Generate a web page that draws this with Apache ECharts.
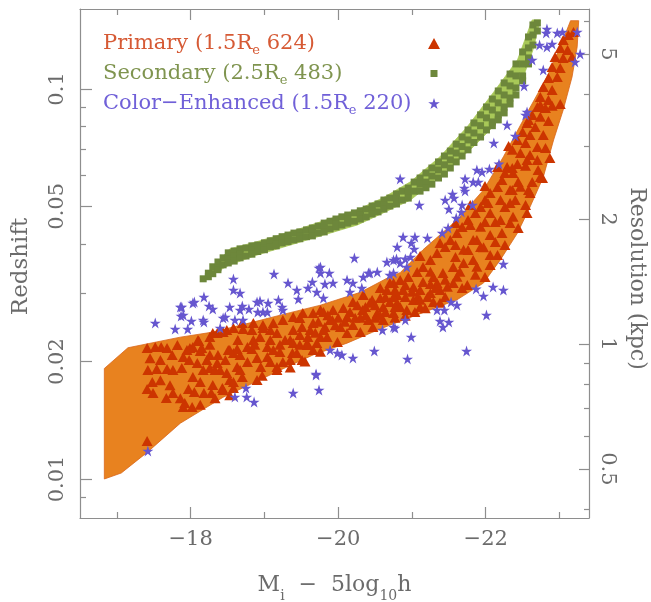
<!DOCTYPE html>
<html>
<head>
<meta charset="utf-8">
<script src="https://cdn.jsdelivr.net/npm/echarts@6.0.0/dist/echarts.min.js"></script>
<style>
  html, body { margin: 0; padding: 0; background: #fff; }
  #chart { width: 651px; height: 602px; }
</style>
</head>
<body>
<div id="chart"></div>
<script>
// axis ranges and ticks
const xMin = -23.4, xMax = -16.5;
const zMin = 0.007943, zMax = 0.1603;
const kpcMin = 0.3808, kpcMax = 6.415;
const xMajorTicks = [-18, -20, -22];
const xMinorTicks = [-17, -19, -21, -23];
const zMajorTicks = [0.01, 0.02, 0.05, 0.1];
const zMinorTicks = [0.009, 0.03, 0.04, 0.06, 0.07, 0.08, 0.09];
const kpcMajorTicks = [0.5, 1, 2, 5];
const kpcMinorTicks = [0.4, 0.6, 0.7, 0.8, 0.9, 3, 4, 6];

// legend
const seriesNames = ['Primary', 'Secondary', 'Color-Enhanced'];
const legendNames = ['Primary', 'Secondary', 'Color\u2212Enhanced'];
const apertures = ['1.5', '2.5', '1.5'];
const sampleCounts = [624, 483, 220];

// band outlines [M_i - 5log h, redshift]
const primaryEdge = [
  [-16.83,0.0192],[-17.15,0.0217],[-17.86,0.0231],[-18.30,0.0238],[-18.90,0.0254],[-19.35,0.0267],
  [-19.76,0.0279],[-20.30,0.0301],[-20.70,0.0330],[-20.84,0.0338],[-21.15,0.0387],[-21.61,0.0461],
  [-21.97,0.0551],[-22.24,0.0670],[-22.56,0.0868],[-22.83,0.1073],[-23.01,0.1282],[-23.15,0.1496],
  [-23.26,0.1496],[-23.24,0.1282],[-23.17,0.1073],[-23.05,0.0883],[-22.92,0.0740],[-22.78,0.0594],
  [-22.60,0.0498],[-22.43,0.0427],[-22.20,0.0365],[-21.97,0.0318],[-21.61,0.0288],[-21.15,0.0267],
  [-20.70,0.0248],[-20.47,0.0238],[-20.12,0.0223],[-19.66,0.0208],[-19.21,0.0190],[-18.44,0.0162],
  [-17.86,0.0139],[-17.41,0.0117],[-17.06,0.01036],[-16.83,0.0100]
];
const secondaryEdge = [
  [-18.15,0.0324],[-18.53,0.0389],[-18.90,0.0406],[-19.35,0.0430],[-19.80,0.0459],[-20.26,0.0490],
  [-20.61,0.0526],[-20.98,0.0578],[-21.38,0.0670],[-21.75,0.0800],[-22.10,0.0977],[-22.43,0.1186],
  [-22.63,0.1503],[-22.74,0.1503],[-22.64,0.1259],[-22.51,0.1073],[-22.33,0.0920],[-22.10,0.0800],
  [-21.83,0.0710],[-21.38,0.0598],[-21.15,0.0551],[-20.98,0.0519],[-20.61,0.0481],[-20.26,0.0448],
  [-19.80,0.0422],[-19.35,0.0398],[-18.90,0.0375],[-18.53,0.0354],[-18.15,0.0324]
];

// galaxies [M_i - 5log h, redshift]
const primaryPts = [
  [-17.41,0.02167],[-17.52,0.02180],[-17.60,0.02180],[-17.68,0.02167],[-17.82,0.02206],
  [-17.42,0.01903],[-17.54,0.01914],[-17.68,0.01914],[-17.76,0.01903],[-17.88,0.01926],
  [-17.41,0.01701],[-17.49,0.01661],[-17.48,0.01773],[-17.67,0.01613],[-17.76,0.01661],
  [-17.97,0.01701],[-18.05,0.01671],[-18.18,0.01661],[-18.28,0.01661],[-17.90,0.01530],
  [-18.02,0.01530],[-17.41,0.01252],[-17.95,0.02142],[-18.03,0.02180],[-18.11,0.02259],
  [-18.13,0.02129],[-17.98,0.02019],[-18.09,0.01984],[-18.22,0.02019],[-18.26,0.01926],
  [-18.36,0.01984],[-18.37,0.02080],[-18.40,0.01903],[-18.51,0.02142],[-18.58,0.02104],
  [-18.63,0.02155],[-18.70,0.01826],[-18.53,0.01794],[-18.43,0.01711],[-18.58,0.01711],
  [-18.67,0.01903],[-18.77,0.01995],[-18.85,0.02272],[-18.83,0.02155],[-18.90,0.02043],
  [-18.95,0.01937],[-19.04,0.02056],[-19.12,0.02142],[-19.21,0.02117],[-19.17,0.01903],
  [-19.25,0.01995],[-19.38,0.02104],[-19.39,0.02232],[-19.51,0.02019],[-19.58,0.02232],
  [-19.66,0.02142],[-19.76,0.02313],[-19.82,0.02453],[-18.26,0.02313],[-18.36,0.02368],
  [-18.49,0.02410],[-18.58,0.02438],[-18.70,0.02512],[-18.85,0.02512],[-18.98,0.02438],
  [-19.12,0.02512],[-19.25,0.02557],[-19.48,0.02587],[-19.76,0.02712],[-19.89,0.02557],
  [-18.90,0.01794],[-18.10,0.02272],[-17.99,0.02167],[-17.90,0.02056],[-18.15,0.02167],
  [-18.26,0.02080],[-18.53,0.02142],[-18.64,0.02272],[-18.77,0.02180],[-18.83,0.02410],
  [-18.94,0.02313],[-19.04,0.02180],[-19.17,0.02368],[-19.28,0.02272],[-19.39,0.02410],
  [-19.51,0.02453],[-19.59,0.02313],[-19.66,0.02512],[-19.80,0.02410],[-19.92,0.02557],
  [-20.03,0.02453],[-20.12,0.02602],[-20.20,0.02482],[-20.33,0.02712],[-20.41,0.02557],
  [-20.53,0.02664],[-20.61,0.02760],[-20.70,0.02843],[-20.80,0.02963],[-20.75,0.03181],
  [-20.66,0.03052],[-20.57,0.02911],[-20.46,0.02877],[-20.34,0.02963],[-20.20,0.02843],
  [-20.07,0.02744],[-19.93,0.02712],[-19.80,0.02680],[-19.66,0.02664],[-19.52,0.02664],
  [-19.39,0.02602],[-18.98,0.02482],[-18.71,0.02424],[-18.44,0.02382],[-18.30,0.02368],
  [-19.08,0.01995],[-19.17,0.01937],[-18.63,0.01937],[-18.49,0.01870],[-18.33,0.01903],
  [-18.17,0.01903],[-18.03,0.01826],[-18.13,0.01773],[-17.92,0.01566],[-18.30,0.01742],
  [-18.44,0.01691],[-18.58,0.01773],[-19.44,0.02104],[-19.35,0.02019],[-19.58,0.02206],
  [-19.71,0.02232],[-19.85,0.02313],[-19.99,0.02245],[-20.12,0.02368],[-20.30,0.02382],
  [-20.47,0.02453],[-20.61,0.02557],[-20.75,0.02664],[-20.80,0.02826],[-20.70,0.03181],
  [-20.84,0.03238],[-20.95,0.03296],[-21.07,0.03395],[-21.15,0.03495],[-21.25,0.03643],
  [-21.34,0.03797],[-21.45,0.03934],[-21.52,0.04100],[-21.61,0.04273],[-21.68,0.04427],
  [-21.76,0.04614],[-21.86,0.04809],[-21.93,0.04982],[-21.99,0.05192],[-22.06,0.05411],
  [-22.16,0.05606],[-22.22,0.05843],[-22.26,0.06090],[-22.29,0.06310],[-22.43,0.06423],
  [-22.56,0.06576],[-22.70,0.06576],[-22.77,0.05913],[-22.58,0.05508],[-22.56,0.04809],
  [-22.36,0.05508],[-22.26,0.04982],[-22.13,0.04560],[-22.06,0.04223],[-21.93,0.03934],
  [-21.76,0.03865],[-21.88,0.04100],[-21.70,0.03579],[-21.56,0.03495],[-21.42,0.03375],
  [-21.29,0.03296],[-21.15,0.03200],[-21.02,0.03107],[-20.88,0.03052],[-20.75,0.02928],
  [-20.84,0.02760],[-21.02,0.02877],[-21.21,0.02928],[-21.38,0.03052],[-21.56,0.03181],
  [-21.75,0.03144],[-21.99,0.03296],[-22.16,0.03753],[-22.06,0.03537],[-21.83,0.03643],
  [-20.93,0.02712],[-21.11,0.02760],[-21.29,0.02843],[-21.45,0.02928],[-21.68,0.03089],
  [-23.19,0.1400],[-23.12,0.1375],[-23.05,0.1335],[-23.01,0.1274],[-23.11,0.1259],
  [-22.94,0.1208],[-23.05,0.1201],[-23.17,0.1208],[-22.90,0.1139],[-23.01,0.1132],
  [-22.85,0.1067],[-22.97,0.1073],[-22.78,0.1012],[-22.90,0.0994],[-22.74,0.0954],
  [-22.85,0.0937],[-22.70,0.0899],[-22.81,0.0894],[-22.63,0.0858],[-22.74,0.0848],
  [-22.56,0.0818],[-22.67,0.0799],[-22.50,0.0776],[-22.60,0.0762],[-22.78,0.0762],
  [-22.43,0.0740],[-22.54,0.0727],[-22.70,0.0710],[-22.36,0.0698],[-22.47,0.0685],
  [-22.60,0.0677],[-22.74,0.0595],[-22.37,0.0609],[-22.33,0.0551],[-22.47,0.0561],
  [-22.60,0.0541],[-22.20,0.0519],[-22.33,0.0510],[-22.06,0.0481],[-22.20,0.0461],
  [-22.37,0.0470],[-21.93,0.0443],[-22.22,0.0427],[-21.83,0.0410],[-21.97,0.0393],
  [-21.70,0.0387],[-21.88,0.0350],[-21.61,0.0330],[-21.34,0.0318],[-21.48,0.0311],
  [-21.11,0.0305],[-21.25,0.0300],[-19.62,0.0241],[-19.73,0.0253],[-19.86,0.0263],
  [-20.00,0.0259],[-20.16,0.0268],[-20.26,0.0279],[-20.37,0.0276],[-20.50,0.0279],
  [-20.64,0.0293],[-20.77,0.0305],[-20.91,0.0314],[-21.00,0.0302],[-21.08,0.0293],
  [-21.32,0.0309],[-20.09,0.0253],[-20.23,0.0259],[-20.37,0.0263],[-20.50,0.0259],
  [-20.64,0.0268],[-20.77,0.0259],[-20.91,0.0262],[-21.04,0.0268],[-21.18,0.0274],
  [-19.48,0.0221],[-19.35,0.0227],[-19.21,0.0221],[-19.08,0.0227],
  [-22.74,0.0910],[-22.90,0.0905],[-23.01,0.0915],[-22.58,0.0833],[-22.85,0.0828],
  [-22.31,0.0714],[-22.81,0.0706],[-22.87,0.0665],[-22.16,0.0631],[-22.36,0.0627],
  [-22.54,0.0635],[-22.71,0.0620],[-21.99,0.0564],[-22.44,0.0577],[-22.63,0.0577],
  [-21.79,0.0504],[-22.03,0.0510],[-22.40,0.0519],[-22.54,0.0504],[-21.59,0.0453],
  [-21.79,0.0448],[-21.99,0.0456],[-22.33,0.0453],[-22.44,0.0440],[-21.38,0.0403],
  [-21.59,0.0398],[-22.13,0.0405],[-22.26,0.0398],[-21.11,0.0373],[-21.59,0.0371],
  [-22.06,0.0375],[-21.25,0.0340],[-21.65,0.0340],[-21.86,0.0334],[-20.57,0.0309],
  [-21.25,0.0316],[-20.91,0.0293],[-21.38,0.0283],[-20.43,0.0283],[-20.77,0.0276],
  [-20.30,0.0259],[-20.57,0.0262],[-21.11,0.0288],[-21.45,0.0324],[-19.96,0.0248],
  [-19.69,0.0237],[-19.48,0.0234],[-19.08,0.0241],[-18.87,0.0221],[-18.67,0.0208],
  [-18.47,0.0202],[-18.26,0.0221],[-17.75,0.0208],[-17.59,0.0202],[-17.45,0.0204],
  [-17.59,0.0179],[-17.72,0.0174],[-17.86,0.0161],[-18.13,0.0155],[-18.33,0.0161],
  [-18.53,0.0164],[-18.97,0.0184],[-19.35,0.0193],[-19.55,0.0200],[-19.76,0.0212]
];

const secondaryPts = [
  [-18.17,0.0326],[-18.24,0.0337],[-18.24,0.0330],[-18.30,0.0350],[-18.30,0.0336],
  [-18.37,0.0360],[-18.37,0.0348],[-18.37,0.0344],[-18.44,0.0369],[-18.44,0.0354],
  [-18.51,0.0380],[-18.51,0.0366],[-18.51,0.0358],[-18.59,0.0384],[-18.59,0.0373],
  [-18.59,0.0362],[-18.67,0.0389],[-18.67,0.0377],[-18.67,0.0369],[-18.75,0.0391],
  [-18.75,0.0373],[-18.83,0.0396],[-18.83,0.0387],[-18.83,0.0377],[-18.91,0.0398],
  [-18.91,0.0383],[-19.00,0.0403],[-19.00,0.0391],[-19.00,0.0387],[-19.08,0.0408],
  [-19.08,0.0394],[-19.16,0.0413],[-19.16,0.0401],[-19.16,0.0396],[-19.24,0.0418],
  [-19.24,0.0403],[-19.32,0.0422],[-19.32,0.0413],[-19.32,0.0406],[-19.40,0.0427],
  [-19.40,0.0410],[-19.48,0.0430],[-19.48,0.0420],[-19.48,0.0413],[-19.57,0.0435],
  [-19.57,0.0418],[-19.65,0.0440],[-19.65,0.0430],[-19.65,0.0420],[-19.73,0.0445],
  [-19.73,0.0427],[-19.81,0.0453],[-19.81,0.0440],[-19.81,0.0430],[-19.89,0.0458],
  [-19.89,0.0438],[-19.97,0.0464],[-19.97,0.0450],[-19.97,0.0443],[-20.05,0.0470],
  [-20.05,0.0448],[-20.13,0.0475],[-20.13,0.0464],[-20.13,0.0453],[-20.22,0.0481],
  [-20.22,0.0458],[-20.30,0.0487],[-20.30,0.0475],[-20.30,0.0464],[-20.38,0.0492],
  [-20.38,0.0470],[-20.46,0.0501],[-20.46,0.0487],[-20.46,0.0478],[-20.54,0.0507],
  [-20.54,0.0484],[-20.62,0.0519],[-20.62,0.0504],[-20.62,0.0492],[-20.70,0.0525],
  [-20.70,0.0501],[-20.79,0.0538],[-20.79,0.0522],[-20.79,0.0507],[-20.87,0.0547],
  [-20.87,0.0519],[-20.95,0.0557],[-20.95,0.0541],[-20.95,0.0525],[-21.03,0.0577],
  [-21.03,0.0547],[-21.11,0.0591],[-21.11,0.0570],[-21.11,0.0547],[-21.19,0.0609],
  [-21.19,0.0577],[-21.19,0.0558],[-21.27,0.0627],[-21.27,0.0598],[-21.27,0.0570],
  [-21.36,0.0650],[-21.36,0.0620],[-21.36,0.0591],[-21.44,0.0673],[-21.44,0.0639],
  [-21.44,0.0605],[-21.52,0.0693],[-21.52,0.0658],[-21.52,0.0627],[-21.60,0.0722],
  [-21.60,0.0685],[-21.60,0.0650],[-21.68,0.0753],[-21.68,0.0712],[-21.68,0.0673],
  [-21.76,0.0785],[-21.76,0.0740],[-21.76,0.0698],[-21.84,0.0818],[-21.84,0.0771],
  [-21.84,0.0729],[-21.93,0.0858],[-21.93,0.0805],[-21.93,0.0753],[-22.01,0.0899],
  [-22.01,0.0843],[-22.01,0.0785],[-22.09,0.0942],[-22.09,0.0883],[-22.09,0.0823],
  [-22.09,0.0805],[-22.17,0.0988],[-22.17,0.0921],[-22.17,0.0858],[-22.17,0.0833],
  [-22.25,0.1036],[-22.25,0.0965],[-22.25,0.0899],[-22.25,0.0868],[-22.33,0.1092],
  [-22.33,0.1018],[-22.33,0.0948],[-22.33,0.0915],[-22.41,0.1159],[-22.41,0.1080],
  [-22.41,0.1006],[-22.41,0.0965],[-22.50,0.1244],[-22.50,0.1159],[-22.50,0.1080],
  [-22.50,0.1049],[-22.58,0.1359],[-22.58,0.1274],[-22.58,0.1201],[-22.58,0.1159],
  [-22.64,0.1459],[-22.64,0.1375],[-22.64,0.1296],[-22.70,0.1476],[-22.70,0.1408]
];

const colorPts = [
  [-17.42,0.01180],[-17.52,0.02512],[-17.79,0.02424],[-17.87,0.02617],[-17.88,0.02760],
  [-17.96,0.02424],[-18.01,0.02542],[-18.03,0.02826],[-18.18,0.02928],[-18.18,0.02527],
  [-18.25,0.02777],[-18.30,0.02728],[-18.40,0.02438],[-18.47,0.02602],[-18.53,0.02760],
  [-18.60,0.01623],[-18.75,0.01711],[-18.76,0.01623],[-18.86,0.01575],[-18.67,0.02712],
  [-18.71,0.02557],[-18.90,0.02843],[-18.98,0.02680],[-19.25,0.02712],[-19.39,0.01661],
  [-19.70,0.01848],[-19.74,0.01691],[-19.13,0.03355],[-19.76,0.03495],[-19.88,0.03375],
  [-19.76,0.03375],[-20.22,0.03687],[-20.66,0.03600],[-20.79,0.03666],[-18.58,0.03257],
  [-18.58,0.03052],[-18.67,0.02998],[-18.05,0.02843],[-17.86,0.02760],[-18.44,0.02587],
  [-18.70,0.02777],[-18.79,0.02728],[-18.94,0.02860],[-19.05,0.02826],[-19.19,0.02877],
  [-19.32,0.03181],[-19.44,0.03052],[-19.65,0.03200],[-19.59,0.03089],[-19.71,0.03016],
  [-19.82,0.03162],[-19.93,0.03181],[-20.12,0.03238],[-20.20,0.03181],[-20.34,0.03296],
  [-20.43,0.03375],[-20.53,0.03395],[-20.70,0.03335],[-20.32,0.03089],[-20.16,0.03016],
  [-19.80,0.02911],[-19.46,0.02894],[-19.24,0.02760],[-19.04,0.02680],[-18.91,0.02680],
  [-18.60,0.02557],[-18.17,0.02557],[-17.90,0.02633],[-19.89,0.02142],[-19.99,0.02104],
  [-20.05,0.02080],[-20.20,0.02043],[-20.49,0.02129],[-20.60,0.02410],[-20.75,0.02453],
  [-19.70,0.01859],[-20.84,0.05879],[-21.10,0.05041],[-21.72,0.05879],[-21.88,0.06199],
  [-21.95,0.06126],[-22.05,0.06236],[-22.18,0.06423],[-21.83,0.05774],[-21.90,0.05774],
  [-21.72,0.05476],[-21.55,0.05380],[-21.57,0.05254],[-21.68,0.05041],[-21.50,0.04923],
  [-21.67,0.04838],[-21.60,0.04669],[-21.82,0.05041],[-21.49,0.04401],[-21.41,0.04273],
  [-20.88,0.04173],[-21.04,0.04173],[-21.21,0.04149],[-20.80,0.03934],[-20.99,0.04028],
  [-21.03,0.03888],[-20.98,0.03709],[-20.91,0.03666],[-20.84,0.03579],[-20.75,0.03643],
  [-20.93,0.03495],[-20.75,0.03375],[-22.24,0.03558],[-21.87,0.03071],[-21.97,0.02946],
  [-22.10,0.03107],[-22.24,0.03052],[-21.53,0.02843],[-21.61,0.02793],[-22.01,0.02633],
  [-21.34,0.02712],[-21.44,0.02712],[-21.38,0.02542],[-21.50,0.02527],[-21.42,0.02453],
  [-20.91,0.02557],[-20.77,0.02438],[-20.99,0.02313],[-21.74,0.02129],[-20.94,0.02031],
  [-22.83,0.14249],[-22.82,0.13916],[-22.97,0.13916],[-23.04,0.14000],[-23.24,0.14000],
  [-22.73,0.12964],[-22.83,0.12812],[-22.90,0.13041],[-23.28,0.12295],[-23.21,0.11728],
  [-22.63,0.11867],[-22.78,0.11186],[-22.52,0.10179],[-22.56,0.08730],[-22.54,0.08577],
  [-22.29,0.08085],[-22.11,0.07270],[-22.40,0.07577],[-21.71,0.05573],[-21.45,0.05192],
  [-20.41,0.03375],[-19.74,0.03475]
];

const FONT = 'DejaVu Serif';
const AXIS_COLOR = '#8e8e8e';
const TEXT_COLOR = '#6b6b6b';
const axisLineStyle = { color: AXIS_COLOR, width: 1.2 };
const STAR = 'path://M50,2L61.8,38.2L99.9,38.2L69.1,60.6L80.9,96.9L50,74.5L19.1,96.9L30.9,60.6L0.1,38.2L38.2,38.2Z';
const SMALL_SQUARE = 'path://M0,0M12,11M2.5,2L9.5,2L9.5,9L2.5,9Z';

const lg = v => Math.log10(v);
const fmtLog = v => String(+Math.pow(10, v).toPrecision(2));

function frameAxis(extra) {
  return Object.assign({
    type: 'value',
    axisLine: { show: false, onZero: false, lineStyle: axisLineStyle },
    axisTick: { show: false },
    axisLabel: { show: false },
    splitLine: { show: false },
    minorTick: { show: false },
    minorSplitLine: { show: false }
  }, extra);
}
function ticks(values, len) {
  return { show: true, inside: true, length: len, customValues: values, lineStyle: axisLineStyle };
}
const labelFont = { color: TEXT_COLOR, fontFamily: FONT, fontSize: 21 };

function bandRenderer(edge, fill, stroke) {
  return function (params, api) {
    if (params.dataIndex !== 0) return null;
    return {
      type: 'polygon',
      shape: { points: edge.map(p => api.coord(p)) },
      style: { fill: fill, stroke: stroke, lineWidth: 0.8 }
    };
  };
}

const legendColors = ['#d65a35', '#7f944f', '#7060d8'];
const rich = {};
const legendLabels = {};
seriesNames.forEach((name, i) => {
  rich['m' + i] = { color: legendColors[i], fontFamily: FONT, fontSize: 21, lineHeight: 26, align: 'left' };
  rich['s' + i] = { color: legendColors[i], fontFamily: FONT, fontSize: 13, lineHeight: 26, padding: [14, 0, 0, 0], align: 'left' };
  legendLabels[name] = `{m${i}|${legendNames[i]} (${apertures[i]}R}{s${i}|e}{m${i}| ${sampleCounts[i]})}`;
});

const chart = echarts.init(document.getElementById('chart'), null, { renderer: 'canvas' });
chart.setOption({
  animation: false,
  backgroundColor: '#fff',
  grid: { left: 80, top: 9, right: 62, bottom: 84, containLabel: false, outerBoundsMode: 'none' },
  legend: {
    orient: 'vertical', left: 103, top: 30, padding: 0, itemGap: 3, align: 'right',
    itemWidth: 12, itemHeight: 11, selectedMode: false,
    data: [
      { name: seriesNames[0], icon: 'triangle' },
      { name: seriesNames[1], icon: SMALL_SQUARE },
      { name: seriesNames[2], icon: STAR }
    ],
    formatter: name => legendLabels[name],
    textStyle: { width: 320, fontFamily: FONT, fontSize: 21, rich: rich }
  },
  xAxis: [
    frameAxis({
      position: 'bottom', min: xMin, max: xMax, inverse: true,
      axisLine: { show: true, onZero: false, lineStyle: axisLineStyle },
      axisTick: ticks(xMajorTicks, 11),
      axisLabel: Object.assign({ show: true, customValues: xMajorTicks, margin: 11,
        formatter: v => (v < 0 ? '\u2212' : '') + Math.abs(v) }, labelFont),
      name: '{t|M}{u|i}{t|  \u2212  5log}{u|10}{t|h}',
      nameLocation: 'middle', nameGap: 52,
      nameTextStyle: { rich: {
        t: { color: TEXT_COLOR, fontFamily: FONT, fontSize: 22, lineHeight: 30 },
        u: { color: TEXT_COLOR, fontFamily: FONT, fontSize: 14, lineHeight: 30, padding: [22, 0, 0, 0] }
      } }
    }),
    frameAxis({ position: 'bottom', min: xMin, max: xMax, inverse: true, axisTick: ticks(xMinorTicks, 6) }),
    frameAxis({ position: 'top', min: xMin, max: xMax, inverse: true,
      axisLine: { show: true, onZero: false, lineStyle: axisLineStyle }, axisTick: ticks(xMajorTicks, 11) }),
    frameAxis({ position: 'top', min: xMin, max: xMax, inverse: true, axisTick: ticks(xMinorTicks, 6) })
  ],
  yAxis: [
    frameAxis({ type: 'log', logBase: 10, position: 'left', min: zMin, max: zMax,
      axisLine: { show: true, onZero: false, lineStyle: axisLineStyle } }),
    frameAxis({
      position: 'left', min: lg(zMin), max: lg(zMax),
      axisTick: ticks(zMajorTicks.map(lg), 12),
      axisLabel: Object.assign({ show: true, customValues: zMajorTicks.map(lg), rotate: 90, margin: 12, formatter: fmtLog }, labelFont),
      name: 'Redshift', nameLocation: 'middle', nameGap: 47, nameRotate: 90,
      nameTextStyle: { color: TEXT_COLOR, fontFamily: FONT, fontSize: 23, padding: [0, 6, 0, 0] }
    }),
    frameAxis({ position: 'left', min: lg(zMin), max: lg(zMax), axisTick: ticks(zMinorTicks.map(lg), 6) }),
    frameAxis({
      position: 'right', min: lg(kpcMin), max: lg(kpcMax),
      axisLine: { show: true, onZero: false, lineStyle: axisLineStyle },
      axisTick: ticks(kpcMajorTicks.map(lg), 10),
      axisLabel: Object.assign({ show: true, customValues: kpcMajorTicks.map(lg), rotate: -90, margin: 8, formatter: fmtLog }, labelFont),
      name: 'Resolution (kpc)', nameLocation: 'middle', nameGap: 37, nameRotate: -90,
      nameTextStyle: { color: TEXT_COLOR, fontFamily: FONT, fontSize: 22, padding: [0, 0, 0, 30] }
    }),
    frameAxis({ position: 'right', min: lg(kpcMin), max: lg(kpcMax), axisTick: ticks(kpcMinorTicks.map(lg), 5) })
  ],
  series: [
    { type: 'custom', name: 'primaryBand', xAxisIndex: 0, yAxisIndex: 0, silent: true, z: 1,
      renderItem: bandRenderer(primaryEdge, '#e8821f', '#d9661a'), data: primaryEdge },
    { type: 'custom', name: 'secondaryBand', xAxisIndex: 0, yAxisIndex: 0, silent: true, z: 1,
      renderItem: bandRenderer(secondaryEdge, '#a8c858', '#a8c858'), data: secondaryEdge },
    { type: 'scatter', name: seriesNames[1], xAxisIndex: 0, yAxisIndex: 0, z: 3,
      symbol: 'rect', symbolSize: 7, itemStyle: { color: '#6d873b', opacity: 1 }, data: secondaryPts },
    { type: 'scatter', name: seriesNames[0], xAxisIndex: 0, yAxisIndex: 0, z: 4,
      symbol: 'triangle', symbolSize: [11, 10], itemStyle: { color: '#cc3500', opacity: 1 }, data: primaryPts },
    { type: 'scatter', name: seriesNames[2], xAxisIndex: 0, yAxisIndex: 0, z: 5,
      symbol: STAR, symbolSize: 11, itemStyle: { color: '#6656cf', opacity: 1 }, data: colorPts }
  ]
});
</script>
</body>
</html>
